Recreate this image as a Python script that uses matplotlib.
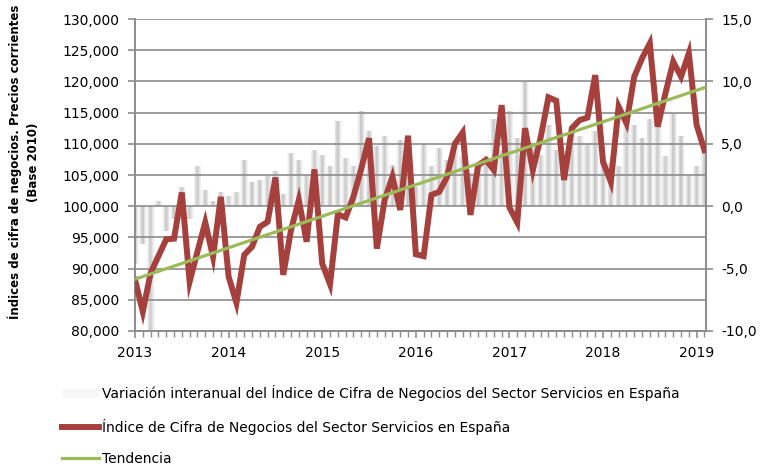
import numpy as np
from matplotlib import pyplot as plt
from matplotlib.patches import Patch
from matplotlib.lines import Line2D
from matplotlib.ticker import FuncFormatter

years = ["2013", "2014", "2015", "2016", "2017", "2018", "2019"]

indice = [
    88200, 83100, 89300, 92000, 94700, 94800, 102200, 87900, 92700, 97400, 91900, 101500,
    88700, 84500, 92200, 93500, 96700, 97500, 104600, 89000, 96200, 101000, 94300, 105900,
    90800, 87500, 98700, 98200, 101500, 106000, 110900, 93200, 101000, 104700, 99400, 111300,
    92300, 92000, 101800, 102300, 104700, 110000, 111800, 98600, 106600, 107400, 105800, 116200,
    99800, 97400, 112500, 105800, 111000, 117450, 116900, 104200, 112500, 113800, 114200, 121000,
    107100, 103900, 115950, 113300, 120760, 123700, 126100, 112740, 118100, 123160, 120760, 124500,
    113000, 109000,
]

variacion = [
    -4.6, -3.0, -10.5, 0.4, -2.0, -1.0, 1.5, -1.0, 3.2, 1.3, 0.4, 1.1,
    0.8, 1.1, 3.7, 1.9, 2.1, 2.4, 2.8, 1.0, 4.3, 3.7, 2.5, 4.5,
    4.1, 3.2, 6.8, 3.9, 3.2, 7.6, 6.0, 4.8, 5.6, 3.3, 5.3, 5.0,
    1.5, 5.1, 3.2, 4.7, 3.7, 4.8, 4.0, 2.7, 3.5, 4.0, 7.0, 4.5,
    7.6, 5.5, 10.0, 4.8, 4.1, 6.5, 4.5, 2.9, 5.9, 5.6, 5.1, 6.0,
    3.5, 3.5, 3.2, 7.2, 6.5, 5.5, 7.0, 6.8, 4.0, 7.5, 5.6, 2.4,
    3.2, 4.5,
]

tendencia_ini = 88300
tendencia_fin = 119000

n = len(indice)
x = np.arange(n)

fig = plt.figure(figsize=(7.62, 4.66), dpi=100)
ax = fig.add_axes([0.1772, 0.2897, 0.7493, 0.6695])
ax2 = ax.twinx()
ax.set_zorder(ax2.get_zorder() + 1)
ax.patch.set_visible(False)

# bars look blurred in the original, so stack a few transparent layers
for w, a in [(1.0, 0.07), (0.8, 0.09), (0.6, 0.12), (0.4, 0.16), (0.22, 0.2)]:
    ax2.bar(x, variacion, width=w, color="#9a9a9a", alpha=a, linewidth=0)

ax.plot(x, indice, color="#a5403d", linewidth=4.3, solid_joinstyle="miter", zorder=3)
ax.plot([0, n - 1], [tendencia_ini, tendencia_fin], color="#9bbb59", linewidth=2.3, zorder=4)

grid_c = "#8c8c8c"
ax.set_ylim(80000, 130000)
ax.set_yticks(np.arange(80000, 130001, 5000))
ax.yaxis.set_major_formatter(FuncFormatter(lambda v, p: f"{int(v):,}"))
ax.grid(axis="y", color=grid_c, linewidth=1.2)
ax2.set_ylim(-10, 15)
ax2.set_yticks(np.arange(-10, 15.1, 5))
ax2.yaxis.set_major_formatter(FuncFormatter(lambda v, p: f"{v:.1f}".replace(".", ",")))

ax.set_xlim(0, 73.2)
ax.set_xticks(np.arange(0, n, 12))
ax.set_xticklabels(years)
ax.set_xticks(x, minor=True)

for a in (ax, ax2):
    for s in a.spines.values():
        s.set_color(grid_c)
        s.set_linewidth(1.2)
    a.spines["top"].set_visible(False)
ax.tick_params(axis="y", colors=grid_c, length=5, width=1.2, labelcolor="black", labelsize=10, pad=6)
ax2.tick_params(axis="y", colors=grid_c, length=5, width=1.2, labelcolor="black", labelsize=10, pad=6)
ax.tick_params(axis="x", which="major", colors=grid_c, length=5, width=1.2, labelcolor="black", labelsize=10, pad=6)
ax.tick_params(axis="x", which="minor", colors=grid_c, length=4, width=1.0)

fig.text(0.031, 1 - 162 / 466, "Índices de cifra de negocios. Precios corrientes\n(Base 2010)",
         rotation=90, ha="center", va="center", multialignment="center",
         fontsize=8.5, fontweight="bold", linespacing=1.5)

handles = [
    Patch(facecolor="#f8f8f8", edgecolor="none"),
    Line2D([], [], color="#a5403d", linewidth=4.3),
    Line2D([], [], color="#9bbb59", linewidth=2.3),
]
labels = [
    "Variación interanual del Índice de Cifra de Negocios del Sector Servicios en España",
    "Índice de Cifra de Negocios del Sector Servicios en España",
    "Tendencia",
]
fig.legend(handles, labels, loc="upper left", bbox_to_anchor=(0.074, 0.185),
           frameon=False, fontsize=10, handlelength=2.7, handletextpad=0.2,
           labelspacing=1.25, borderaxespad=0)

fig.savefig("out.png", dpi=100)
